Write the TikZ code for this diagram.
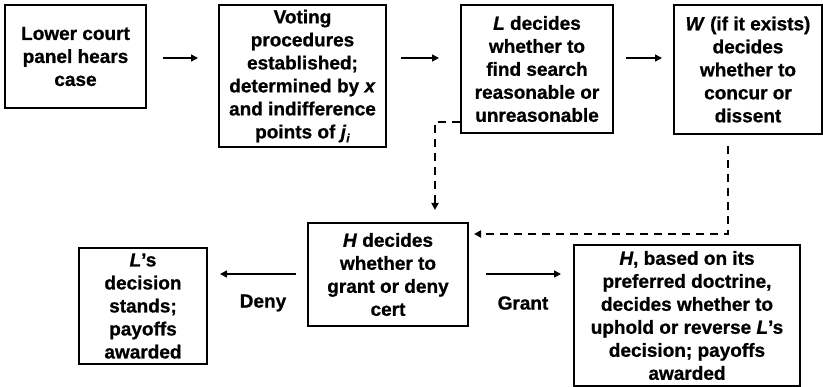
\documentclass[tikz,border=0pt]{standalone}
\usepackage{fontspec}
\setmainfont{Liberation Sans}[BoldFeatures={FakeBold=0.8},BoldItalicFeatures={FakeBold=0.8}]
\usetikzlibrary{arrows.meta,positioning}
\tikzset{
  box/.style={draw=black, line width=2pt, rectangle, align=center, inner sep=0pt,
    font=\fontsize{19}{23}\selectfont\bfseries},
  lbl/.style={inner sep=0pt, font=\fontsize{19}{23}\selectfont\bfseries},
  arr/.style={line width=1.5pt, -{Triangle[length=7pt,width=7pt]}},
  dsh/.style={line width=2.4pt, dash pattern=on 8pt off 6pt, -{Triangle[length=7pt,width=7pt]}}
}
\begin{document}
\begin{tikzpicture}[x=1pt,y=-1pt]
\useasboundingbox (0,0) rectangle (823,387);
\node[box, minimum width=141pt, minimum height=103pt] (b1) at (75.5,56.5) {Lower court\\panel hears\\case};
\node[box, minimum width=167pt, minimum height=142pt] (b2) at (302.5,76) {Voting\\procedures\\established;\\determined by \textit{x}\\and indifference\\points of \textit{j}\raisebox{-4pt}{\fontsize{12}{12}\selectfont\textit{i}}};
\node[box, minimum width=152pt, minimum height=128pt] (b3) at (537,69) {\textit{L} decides\\whether to\\find search\\reasonable or\\unreasonable};
\node[box, minimum width=148pt, minimum height=129pt] (b4) at (748,69.5) {\textit{W} (if it exists)\\decides\\whether to\\concur or\\dissent};
\node[box, minimum width=160pt, minimum height=103pt] (h) at (388,274.5) {\textit{H} decides\\whether to\\grant or deny\\cert};
\node[box, minimum width=128pt, minimum height=116pt] (ls) at (143,306) {\textit{L}'s\\decision\\stands;\\payoffs\\awarded};
\node[box, minimum width=226pt, minimum height=141pt] (rv) at (687,315.5) {\textit{H}, based on its\\preferred doctrine,\\decides whether to\\uphold or reverse \textit{L}'s\\decision; payoffs\\awarded};
\node[lbl] (deny) at (263,303) {Deny};
\node[lbl] (grant) at (523,303) {Grant};
\coordinate (ytop) at (0,58);
\coordinate (ybot) at (0,274);
\coordinate (c1) at (435,122);
\coordinate (c2) at (728,234);
\draw[arr, shorten <=16pt, shorten >=20pt] (b1.east |- ytop) -- (b2.west |- ytop);
\draw[arr, shorten <=14pt, shorten >=21pt] (b2.east |- ytop) -- (b3.west |- ytop);
\draw[arr, shorten <=12pt, shorten >=11pt] (b3.east |- ytop) -- (b4.west |- ytop);
\draw[dsh, shorten >=12pt] (b3.west |- c1) -| (c1 |- h.north);
\draw[dsh, shorten <=11pt, shorten >=5pt] (b4.south -| c2) |- (h.east |- c2);
\draw[arr, shorten <=11pt, shorten >=12pt] (h.west |- ybot) -- (ls.east |- ybot);
\draw[arr, shorten <=17pt, shorten >=12pt] (h.east |- ybot) -- (rv.west |- ybot);
\end{tikzpicture}
\end{document}
